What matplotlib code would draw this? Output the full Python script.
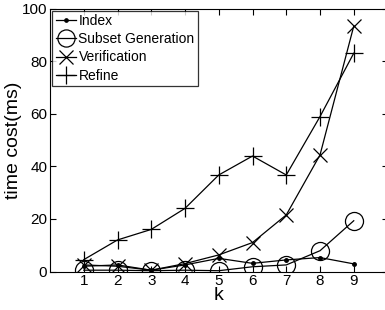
import matplotlib
matplotlib.use("Agg")
import matplotlib.pyplot as plt

plt.rcParams['font.family'] = ['Liberation Sans', 'DejaVu Sans']

k = [1, 2, 3, 4, 5, 6, 7, 8, 9]
index_cost = [2.0, 2.5, 0.5, 2.5, 5.0, 3.1, 4.4, 5.3, 2.9]
subset_cost = [0.5, 0.5, 0.3, 0.5, 0.3, 1.8, 2.5, 7.9, 19.3]
verify_cost = [2.5, 2.0, 0.5, 3.0, 6.3, 11.0, 21.5, 44.3, 93.3]
refine_cost = [4.5, 12.0, 16.0, 24.0, 36.7, 43.9, 36.7, 58.9, 83.0]

fig = plt.figure(figsize=(3.85, 3.10), dpi=100)
# right spine sits just past the image edge, as in the original
ax = fig.add_axes([50/385, 1 - 271.5/310, 337.5/385, 263/310])

ax.plot(k, index_cost, 'k.-', lw=0.9, ms=5, label='Index')
ax.plot(k, subset_cost, 'ko-', lw=0.9, ms=13, mfc='none', mew=0.9, label='Subset Generation')
ax.plot(k, verify_cost, 'kx-', lw=0.9, ms=10, mew=0.9, label='Verification')
ax.plot(k, refine_cost, 'k+-', lw=0.9, ms=13, mew=0.9, label='Refine')

ax.set_xlim(0, 10)
ax.set_ylim(0, 100)
ax.set_xticks(k)
ax.set_yticks([0, 20, 40, 60, 80, 100])
ax.tick_params(direction='in', top=True, right=True, labelsize=11, length=4, pad=2)
ax.set_xlabel('k', fontsize=14, labelpad=-1)
ax.set_ylabel('time cost(ms)', fontsize=14)
ax.yaxis.set_label_coords(-0.083, 0.5)

leg = ax.legend(loc='upper left', fontsize=10, frameon=True, fancybox=False,
                edgecolor='k', borderpad=0.25, labelspacing=0.3, handlelength=1.5,
                handletextpad=0.15, borderaxespad=0.15, markerscale=0.95)
leg.get_frame().set_linewidth(0.9)

fig.savefig('out.png', dpi=100)
